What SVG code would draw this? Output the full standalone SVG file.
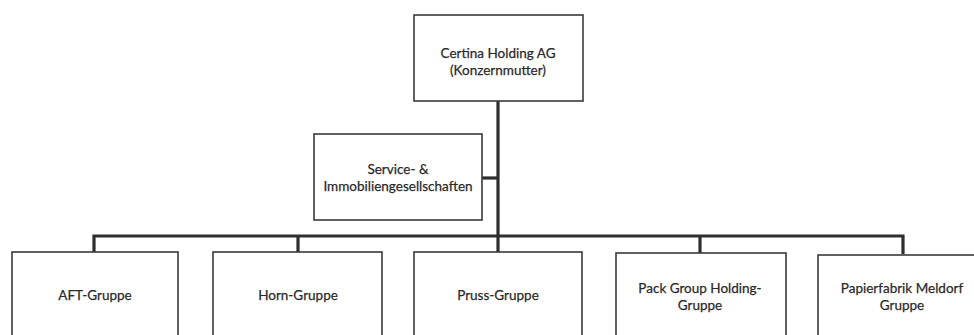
<svg xmlns="http://www.w3.org/2000/svg" width="974" height="335" viewBox="0 0 974 335">
<style>
.box{fill:#fff;stroke:#3a3a3a;stroke-width:1.6}
.lbl{font-family:Lato,"Open Sans","Liberation Sans",sans-serif;font-size:13.5px;fill:#2a2a2a;stroke:#2a2a2a;stroke-width:0.25;text-anchor:middle}
.con{fill:none;stroke:#2e2e2e;stroke-width:3.2}
</style>
<rect width="974" height="335" fill="#fff"/>
<g id="connectors">
<path class="con" d="M498,101 V252"/>
<path class="con" d="M482,178 H498"/>
<path class="con" d="M94,252 V236 H903 V254"/>
<path class="con" d="M298,236 V252"/>
<path class="con" d="M700,236 V253"/>
</g>
<g id="certina">
<rect class="box" x="414" y="15" width="169" height="86"/>
<text class="lbl" x="498" y="58">Certina Holding AG</text>
<text class="lbl" x="498" y="75">(Konzernmutter)</text>
</g>
<g id="service">
<rect class="box" x="314" y="134" width="168" height="86"/>
<text class="lbl" x="398" y="174">Service- &amp;</text>
<text class="lbl" x="398" y="191">Immobiliengesellschaften</text>
</g>
<g id="aft">
<rect class="box" x="12" y="252" width="166" height="100"/>
<text class="lbl" x="95" y="300">AFT-Gruppe</text>
</g>
<g id="horn">
<rect class="box" x="213" y="252" width="169" height="100"/>
<text class="lbl" x="298" y="300">Horn-Gruppe</text>
</g>
<g id="pruss">
<rect class="box" x="414" y="252" width="168" height="100"/>
<text class="lbl" x="498" y="300">Pruss-Gruppe</text>
</g>
<g id="pack">
<rect class="box" x="616" y="253" width="170" height="100"/>
<text class="lbl" x="700" y="293">Pack Group Holding-</text>
<text class="lbl" x="700" y="310">Gruppe</text>
</g>
<g id="papier">
<rect class="box" x="818" y="255" width="160" height="100"/>
<text class="lbl" x="902" y="293">Papierfabrik Meldorf</text>
<text class="lbl" x="902" y="310">Gruppe</text>
</g>
</svg>
